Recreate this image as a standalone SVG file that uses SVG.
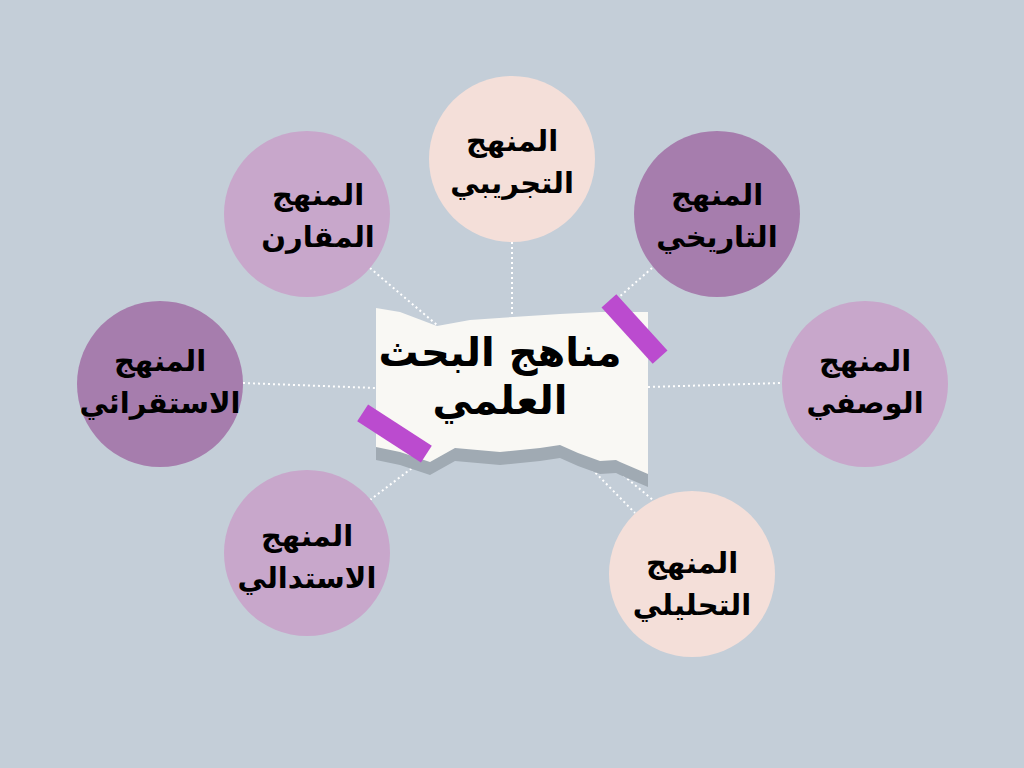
<svg xmlns="http://www.w3.org/2000/svg" width="1024" height="768" viewBox="0 0 1024 768">
<style>
.lbl{font-family:"DejaVu Sans","Noto Sans",sans-serif;font-weight:bold;font-size:29px;fill:#000;text-anchor:middle;direction:rtl}
.title{font-family:"DejaVu Sans","Noto Sans",sans-serif;font-weight:bold;font-size:40px;fill:#000;text-anchor:middle;direction:rtl}
.con{stroke:#ffffff;stroke-width:2;stroke-dasharray:2 3;fill:none}
.tape{fill:#bb4bcf}
</style>
<defs>
<path id="paper" d="M376,308 L400,312 L437,326 L470,320 L513,317 L560,314 L600,312 L648,312 L648,474 L620,462 L616,460 L600,461 L578,453 L560,445 L540,448 L500,452 L455,448 L430,462 L400,452 L376,447 Z"/>
</defs>
<rect width="1024" height="768" fill="#c4ced8"/>
<g id="connectors">
<line class="con" x1="512" y1="242" x2="512" y2="316"/>
<line class="con" x1="370" y1="268" x2="437" y2="325"/>
<line class="con" x1="243" y1="383" x2="376" y2="388"/>
<line class="con" x1="648" y1="387" x2="782" y2="383"/>
<line class="con" x1="652" y1="268" x2="618" y2="298"/>
<line class="con" x1="370" y1="500" x2="420" y2="462"/>
<line class="con" x1="578" y1="455" x2="635" y2="513"/>
<line class="con" x1="612" y1="466" x2="653" y2="500"/>
</g>
<g id="center">
<use href="#paper" fill="#a0aab3" transform="translate(0,13)"/>
<use href="#paper" fill="#f9f8f4"/>
<rect class="tape" x="596.5" y="319" width="76" height="20" transform="rotate(47.7 634.5 329)"/>
<rect class="tape" x="356.5" y="423.5" width="76" height="20" transform="rotate(33 394.5 433.5)"/>
<text class="title" x="500" y="366">مناهج البحث</text>
<text class="title" x="500" y="414">العلمي</text>
</g>
<g id="n-tajribi">
<circle cx="512" cy="159" r="83" fill="#f4dfd9"/>
<text class="lbl" x="512" y="151">المنهج</text>
<text class="lbl" x="512" y="193">التجريبي</text>
</g>
<g id="n-tarikhi">
<circle cx="717" cy="214" r="83" fill="#a67dad"/>
<text class="lbl" x="717" y="205">المنهج</text>
<text class="lbl" x="717" y="247">التاريخي</text>
</g>
<g id="n-wasfi">
<circle cx="865" cy="384" r="83" fill="#c8a7cb"/>
<text class="lbl" x="865" y="371">المنهج</text>
<text class="lbl" x="865" y="413">الوصفي</text>
</g>
<g id="n-tahlili">
<circle cx="692" cy="574" r="83" fill="#f4dfd9"/>
<text class="lbl" x="692" y="573">المنهج</text>
<text class="lbl" x="692" y="615">التحليلي</text>
</g>
<g id="n-istidlali">
<circle cx="307" cy="553" r="83" fill="#c8a7cb"/>
<text class="lbl" x="307" y="546">المنهج</text>
<text class="lbl" x="307" y="588">الاستدالي</text>
</g>
<g id="n-istiqrai">
<circle cx="160" cy="384" r="83" fill="#a67dad"/>
<text class="lbl" x="160" y="371">المنهج</text>
<text class="lbl" x="160" y="413">الاستقرائي</text>
</g>
<g id="n-muqaran">
<circle cx="307" cy="214" r="83" fill="#c8a7cb"/>
<text class="lbl" x="318" y="205">المنهج</text>
<text class="lbl" x="318" y="247">المقارن</text>
</g>
</svg>
